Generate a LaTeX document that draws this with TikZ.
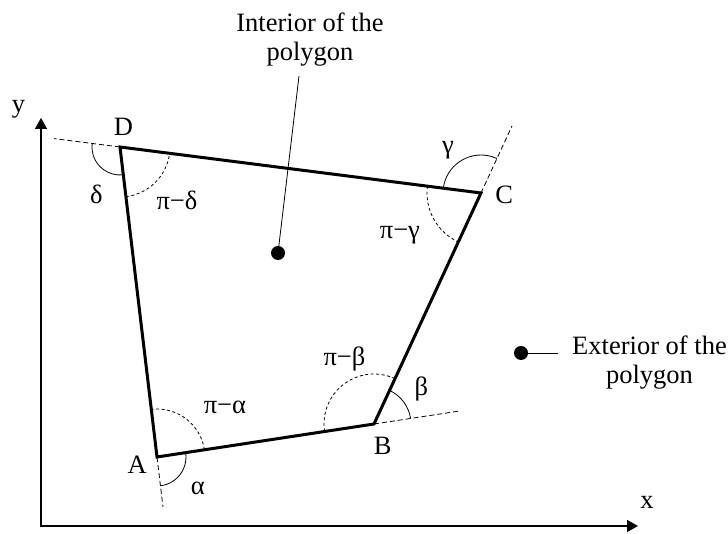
\documentclass[tikz,border=0pt]{standalone}
\usepackage{fontspec}
\setmainfont{Liberation Serif}
\usetikzlibrary{angles,arrows.meta}
\begin{document}
\begin{tikzpicture}[x=1pt,y=1pt,
  poly/.style={line width=3pt, line join=miter},
  extline/.style={line width=0.8pt, dash pattern=on 5pt off 3pt},
  axisline/.style={line width=1.3pt},
  lbl/.style={inner sep=0pt, font=\fontsize{26.5}{29}\selectfont},
  txt/.style={inner sep=0pt, anchor=base, font=\fontsize{26.5}{29}\selectfont},
  angs/.style={draw, line width=0.8pt},
  angd/.style={draw, line width=0.8pt, dash pattern=on 3pt off 2.5pt},
  bigdot/.style={circle, fill, inner sep=0pt, minimum size=14pt},
  leader/.style={line width=0.8pt}
]
\useasboundingbox (0,0) rectangle (728,534);

% axes
\coordinate (O) at (41,8);
\coordinate (ytip) at (41,416);
\coordinate (xtip) at (638,8);
\draw[axisline, {Triangle[length=11pt,width=12pt]}-{Triangle[length=11pt,width=12pt]}] (ytip) -- (O) -- (xtip);
\node[lbl] (ylab) at (18.6,425) {y};
\node[lbl] (xlab) at (647,32) {x};

% vertices
\coordinate (A) at (157,77);
\coordinate (B) at (374,110);
\coordinate (C) at (481,341);
\coordinate (D) at (120,387);

% extensions
\coordinate (Dx) at (54,395.4);
\coordinate (Cx) at (512,408);
\coordinate (Bx) at (461,123.2);
\coordinate (Ax) at (163,27);
\draw[extline] (D) -- (Dx);
\draw[extline] (C) -- (Cx);
\draw[extline] (B) -- (Bx);
\draw[extline] (A) -- (Ax);

% angles
\pic[angs, angle radius=28pt] {angle = Dx--D--A};
\pic[angd, angle radius=50pt] {angle = A--D--C};
\pic[angs, angle radius=38pt] {angle = Cx--C--D};
\pic[angd, angle radius=54pt] {angle = D--C--B};
\pic[angs, angle radius=37pt] {angle = Bx--B--C};
\pic[angd, angle radius=50pt] {angle = C--B--A};
\pic[angd, angle radius=48pt] {angle = B--A--D};
\pic[angs, angle radius=29pt] {angle = Ax--A--B};

% polygon
\draw[poly] (A) -- (B) -- (C) -- (D) -- cycle;

% vertex labels
\node[lbl] (Al) at (137.3,69.7) {A};
\node[lbl] (Bl) at (382.7,88.5) {B};
\node[lbl] (Cl) at (504.2,339.4) {C};
\node[lbl] (Dl) at (123.4,407) {D};

% angle labels
\node[lbl] (dl) at (96.4,339.4) {δ};
\node[lbl] (pdl) at (177,333.2) {π−δ};
\node[lbl] (gl) at (447.9,383.8) {γ};
\node[lbl] (pgl) at (399.9,299.1) {π−γ};
\node[lbl] (bl) at (421.3,144.8) {β};
\node[lbl] (pbl) at (344.5,174.8) {π−β};
\node[lbl] (pal) at (224.9,127) {π−α};
\node[lbl] (al) at (197.9,45.8) {α};

% interior
\node[bigdot] (idot) at (278,281) {};
\coordinate (ltop) at (299,458);
\draw[leader] (idot.center) -- (ltop);
\node[txt] (int1) at (310,502.3) {Interior of the};
\node[txt] (int2) at (310,473) {polygon};

% exterior
\node[bigdot] (edot) at (521,181) {};
\coordinate (eend) at (558,181);
\draw[leader] (edot.center) -- (eend);
\node[txt] (ext1) at (649.5,179.7) {Exterior of the};
\node[txt] (ext2) at (649.5,150.7) {polygon};
\end{tikzpicture}
\end{document}
